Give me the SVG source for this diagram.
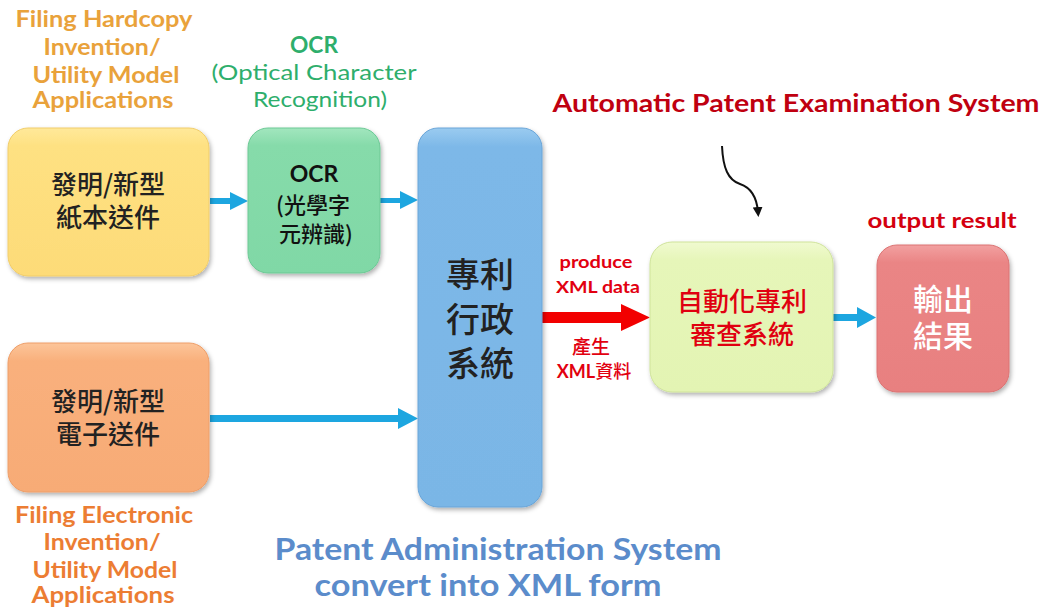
<svg xmlns="http://www.w3.org/2000/svg" width="1049" height="614" viewBox="0 0 1049 614">
<style>
.en{font-family:Lato,"Liberation Sans",sans-serif;font-weight:bold;text-anchor:middle}
.enr{font-family:Lato,"Liberation Sans",sans-serif;font-weight:normal;text-anchor:middle}
.cjk{font-family:"Noto Sans CJK TC","Noto Sans CJK SC",sans-serif;text-anchor:middle;font-weight:500}
.box{filter:url(#sh)}
.arr{fill:#1DA6E0}
</style>
<defs>
<filter id="sh" x="-10%" y="-10%" width="130%" height="130%">
<feDropShadow dx="1.5" dy="2.5" stdDeviation="2" flood-color="#000" flood-opacity="0.3"/>
</filter>
<linearGradient id="gY" x1="0" y1="0" x2="0" y2="1"><stop offset="0" stop-color="#FFE99A"/><stop offset="0.12" stop-color="#FEE182"/><stop offset="1" stop-color="#FDDB78"/></linearGradient>
<linearGradient id="gG" x1="0" y1="0" x2="0" y2="1"><stop offset="0" stop-color="#A2E6BE"/><stop offset="0.12" stop-color="#86DBAA"/><stop offset="1" stop-color="#80D8A6"/></linearGradient>
<linearGradient id="gB" x1="0" y1="0" x2="0" y2="1"><stop offset="0" stop-color="#9ACBF0"/><stop offset="0.05" stop-color="#7DB8E8"/><stop offset="1" stop-color="#7AB6E6"/></linearGradient>
<linearGradient id="gO" x1="0" y1="0" x2="0" y2="1"><stop offset="0" stop-color="#FCC59A"/><stop offset="0.12" stop-color="#F9B07C"/><stop offset="1" stop-color="#F7AB76"/></linearGradient>
<linearGradient id="gL" x1="0" y1="0" x2="0" y2="1"><stop offset="0" stop-color="#F0FAD0"/><stop offset="0.12" stop-color="#E6F6B9"/><stop offset="1" stop-color="#E3F4B3"/></linearGradient>
<linearGradient id="gR" x1="0" y1="0" x2="0" y2="1"><stop offset="0" stop-color="#F2A0A0"/><stop offset="0.12" stop-color="#EA8585"/><stop offset="1" stop-color="#E88080"/></linearGradient>
<marker id="ah" viewBox="0 0 10 10" refX="5" refY="5" markerWidth="5" markerHeight="5" orient="auto" markerUnits="strokeWidth">
<path d="M0,0 L10,5 L0,10 z" fill="#111"/>
</marker>
</defs>
<rect width="1049" height="614" fill="#fff"/>

<!-- labels -->
<g id="label-hardcopy" fill="#E9A23B">
<text class="en" x="104" y="27" font-size="22" textLength="177" lengthAdjust="spacingAndGlyphs">Filing Hardcopy</text>
<text class="en" x="102" y="55" font-size="22" textLength="117" lengthAdjust="spacingAndGlyphs">Invention/</text>
<text class="en" x="106" y="83" font-size="22" textLength="147" lengthAdjust="spacingAndGlyphs">Utility Model</text>
<text class="en" x="103" y="108" font-size="22" textLength="141" lengthAdjust="spacingAndGlyphs">Applications</text>
</g>
<g id="label-ocr" fill="#2EAE6C">
<text class="en" x="314" y="53" font-size="22" textLength="48" lengthAdjust="spacingAndGlyphs">OCR</text>
<text class="enr" x="314" y="80" font-size="22" textLength="205" lengthAdjust="spacingAndGlyphs">(Optical Character</text>
<text class="enr" x="320" y="107" font-size="22" textLength="134" lengthAdjust="spacingAndGlyphs">Recognition)</text>
</g>
<g id="label-electronic" fill="#EC7D33">
<text class="en" x="104" y="523" font-size="22" textLength="178" lengthAdjust="spacingAndGlyphs">Filing Electronic</text>
<text class="en" x="102" y="550" font-size="22" textLength="117" lengthAdjust="spacingAndGlyphs">Invention/</text>
<text class="en" x="105" y="578" font-size="22" textLength="145" lengthAdjust="spacingAndGlyphs">Utility Model</text>
<text class="en" x="103" y="603" font-size="22" textLength="143" lengthAdjust="spacingAndGlyphs">Applications</text>
</g>
<g id="label-apes" fill="#C00010">
<text class="en" x="796" y="112" font-size="24" textLength="487" lengthAdjust="spacingAndGlyphs">Automatic Patent Examination System</text>
</g>
<g id="label-output" fill="#D4000F">
<text class="en" x="942" y="228" font-size="21" textLength="149" lengthAdjust="spacingAndGlyphs">output result</text>
</g>
<g id="label-pas" fill="#5B8CCB">
<text class="en" x="498" y="560" font-size="30" textLength="447" lengthAdjust="spacingAndGlyphs">Patent Administration System</text>
<text class="en" x="488" y="596" font-size="30" textLength="347" lengthAdjust="spacingAndGlyphs">convert into XML form</text>
</g>
<g id="label-produce" fill="#E20010">
<text class="en" x="596" y="268" font-size="17" textLength="73" lengthAdjust="spacingAndGlyphs">produce</text>
<text class="en" x="598" y="293" font-size="17" textLength="84" lengthAdjust="spacingAndGlyphs">XML data</text>
<text class="cjk" font-size="19"><tspan x="591" y="354">產生</tspan><tspan x="594" y="378" font-size="18"><tspan font-family="Lato,'Liberation Sans',sans-serif" font-weight="bold">XML</tspan>資料</tspan></text>
</g>

<!-- connectors -->
<g id="connectors">
<polygon class="arr" points="210,198 230,198 230,192 248,201 230,210 230,204 210,204"/>
<polygon class="arr" points="380,198 400,198 400,191 418,200 400,209 400,203 380,203"/>
<polygon class="arr" points="210,415 398,415 398,408 418,418.5 398,429 398,422 210,422"/>
<polygon class="arr" points="833,314 857,314 857,307 876,317.5 857,328 857,321 833,321"/>
<polygon fill="#F20000" points="542,312 621,312 621,304 650,317.5 621,331 621,323 542,323"/>
<path d="M722,146 C723,168 728,180 740,184 C752,188 757,200 758,212" fill="none" stroke="#111" stroke-width="2" marker-end="url(#ah)"/>
</g>

<!-- nodes -->
<g id="node-hardcopy">
<rect class="box" x="8" y="128" width="201" height="148" rx="20" fill="url(#gY)" stroke="#F1CD6A" stroke-width="1"/>
<text class="cjk" font-size="26" fill="#222"><tspan x="108" y="194">發明/新型</tspan><tspan x="108" y="227">紙本送件</tspan></text>
</g>
<g id="node-ocr">
<rect class="box" x="248" y="128" width="132" height="145" rx="20" fill="url(#gG)" stroke="#6CC995" stroke-width="1"/>
<text class="en" x="314" y="182" font-size="23" fill="#111">OCR</text>
<text class="cjk" font-size="22" fill="#111"><tspan x="313" y="213">(光學字</tspan><tspan x="316" y="242">元辨識)</tspan></text>
</g>
<g id="node-pas">
<rect class="box" x="418" y="128" width="124" height="379" rx="20" fill="url(#gB)" stroke="#6AA5D8" stroke-width="1"/>
<text class="cjk" font-size="34" fill="#222"><tspan x="480" y="287">專利</tspan><tspan x="480" y="332">行政</tspan><tspan x="480" y="376">系統</tspan></text>
</g>
<g id="node-electronic">
<rect class="box" x="8" y="343" width="201" height="149" rx="20" fill="url(#gO)" stroke="#EE9E68" stroke-width="1"/>
<text class="cjk" font-size="26" fill="#222"><tspan x="108" y="411">發明/新型</tspan><tspan x="108" y="444">電子送件</tspan></text>
</g>
<g id="node-apes">
<rect class="box" x="650" y="242" width="183" height="150" rx="22" fill="url(#gL)" stroke="#CFE39A" stroke-width="1"/>
<text class="cjk" font-size="26" fill="#E00010"><tspan x="742" y="311">自動化專利</tspan><tspan x="742" y="344">審查系統</tspan></text>
</g>
<g id="node-output">
<rect class="box" x="877" y="245" width="132" height="147" rx="20" fill="url(#gR)" stroke="#DB7373" stroke-width="1"/>
<text class="cjk" font-size="30" fill="#fff"><tspan x="943" y="310">輸出</tspan><tspan x="943" y="347">結果</tspan></text>
</g>
</svg>
